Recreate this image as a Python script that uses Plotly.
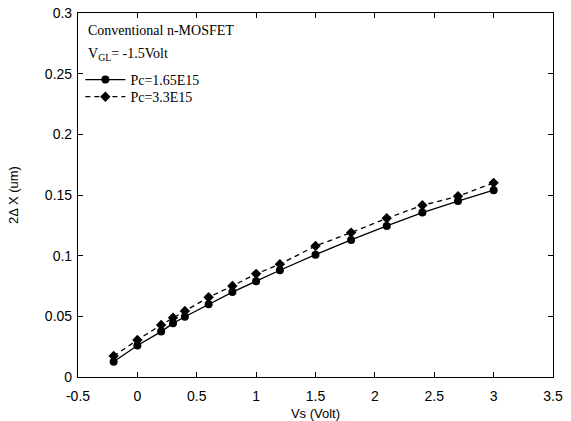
import plotly.graph_objects as go

vs = [-0.2, 0.0, 0.2, 0.3, 0.4, 0.6, 0.8, 1.0, 1.2, 1.5, 1.8, 2.1, 2.4, 2.7, 3.0]
dx_165 = [0.0126, 0.026, 0.0374, 0.0442, 0.0497, 0.060, 0.070, 0.079, 0.088, 0.1008, 0.113, 0.1245, 0.1355, 0.145, 0.154]
dx_33 = [0.0173, 0.0305, 0.0429, 0.0489, 0.0544, 0.0657, 0.075, 0.085, 0.093, 0.108, 0.119, 0.1308, 0.1415, 0.149, 0.160]

x_ticks = [-0.5, 0, 0.5, 1, 1.5, 2, 2.5, 3, 3.5]
x_labels = ["-0.5", "0", "0.5", "1", "1.5", "2", "2.5", "3", "3.5"]
y_ticks = [0, 0.05, 0.1, 0.15, 0.2, 0.25, 0.3]
y_labels = ["0", "0.05", "0.1", "0.15", "0.2", "0.25", "0.3"]

serif = "Liberation Serif, Times New Roman"
sans = "Liberation Sans, Arial"

fig = go.Figure()
fig.add_trace(go.Scatter(x=vs, y=dx_165, mode="lines+markers", name="Pc=1.65E15",
                         line=dict(color="black", width=1.3, dash="solid"),
                         marker=dict(symbol="circle", size=8, color="black"),
                         legend="legend"))
fig.add_trace(go.Scatter(x=vs, y=dx_33, mode="lines+markers", name="Pc=3.3E15",
                         line=dict(color="black", width=1.3, dash="5px,4px"),
                         marker=dict(symbol="diamond", size=8, color="black"),
                         legend="legend2"))

tickfont = dict(family=sans, size=14, color="black")
legfont = dict(family=serif, size=14, color="black")
fig.update_layout(
    width=571, height=421,
    margin=dict(l=78, r=18, t=13, b=44),
    paper_bgcolor="white", plot_bgcolor="white",
    showlegend=True,
    legend=dict(x=0.005, y=0.816, xanchor="left", yanchor="middle",
                font=legfont, bgcolor="rgba(0,0,0,0)", itemwidth=40),
    legend2=dict(x=0.005, y=0.769, xanchor="left", yanchor="middle",
                 font=legfont, bgcolor="rgba(0,0,0,0)", itemwidth=40),
    xaxis=dict(range=[-0.5, 3.5], tickvals=x_ticks, ticktext=x_labels, automargin=False,
               showgrid=False, zeroline=False, showline=True, linecolor="black", linewidth=1.2,
               mirror="ticks", ticks="inside", ticklen=5, tickcolor="black",
               tickfont=tickfont, ticklabelstandoff=6,
               title=dict(text="Vs (Volt)", font=dict(family=sans, size=13, color="black"))),
    yaxis=dict(range=[0, 0.3], tickvals=y_ticks, ticktext=y_labels, automargin=False,
               showgrid=False, zeroline=False, showline=True, linecolor="black", linewidth=1.2,
               mirror="ticks", ticks="inside", ticklen=5, tickcolor="black",
               tickfont=tickfont, ticklabelstandoff=2),
    annotations=[
        dict(text="2Δ X (um)", xref="paper", yref="paper", x=-0.137, y=0.5,
             xanchor="center", yanchor="middle", textangle=-90, showarrow=False,
             font=dict(family=sans, size=13, color="black")),
        dict(text="Conventional n-MOSFET", xref="paper", yref="paper", x=0.017, y=0.952,
             xanchor="left", yanchor="middle", showarrow=False,
             font=dict(family=serif, size=14, color="black")),
        dict(text="V<sub>GL</sub>= -1.5Volt", xref="paper", yref="paper", x=0.017, y=0.887,
             xanchor="left", yanchor="middle", showarrow=False,
             font=dict(family=serif, size=14, color="black")),
    ],
)

fig.write_html("out.html")
